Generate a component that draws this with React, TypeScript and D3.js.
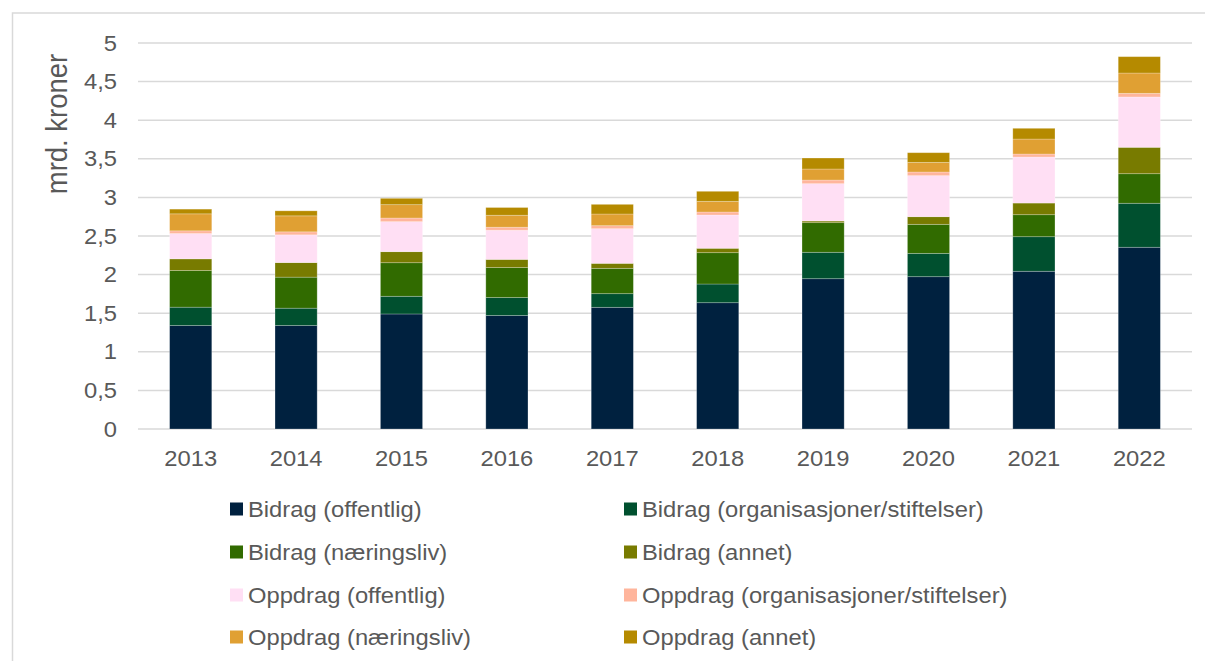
import React from "react";
import * as d3 from "d3";

const years = ["2013", "2014", "2015", "2016", "2017", "2018", "2019", "2020", "2021", "2022"];

const bidragOffentlig = [1.34, 1.34, 1.49, 1.47, 1.576, 1.636, 1.947, 1.973, 2.043, 2.354];
const bidragOrg = [0.238, 0.225, 0.229, 0.233, 0.177, 0.242, 0.342, 0.302, 0.448, 0.57];
const bidragNaering = [0.475, 0.402, 0.435, 0.388, 0.328, 0.406, 0.384, 0.376, 0.285, 0.383];
const bidragAnnet = [0.151, 0.189, 0.143, 0.106, 0.065, 0.057, 0.021, 0.099, 0.151, 0.342];
const oppdragOffentlig = [0.328, 0.359, 0.389, 0.378, 0.449, 0.431, 0.484, 0.532, 0.596, 0.652];
const oppdragOrg = [0.035, 0.039, 0.047, 0.039, 0.039, 0.039, 0.047, 0.047, 0.039, 0.047];
const oppdragNaering = [0.22, 0.207, 0.173, 0.155, 0.151, 0.138, 0.143, 0.125, 0.194, 0.263];
const oppdragAnnet = [0.061, 0.065, 0.082, 0.1, 0.125, 0.13, 0.142, 0.125, 0.139, 0.212];

const seriesNames = [
  "Bidrag (offentlig)",
  "Bidrag (organisasjoner/stiftelser)",
  "Bidrag (næringsliv)",
  "Bidrag (annet)",
  "Oppdrag (offentlig)",
  "Oppdrag (organisasjoner/stiftelser)",
  "Oppdrag (næringsliv)",
  "Oppdrag (annet)",
];
const seriesValues = [
  bidragOffentlig,
  bidragOrg,
  bidragNaering,
  bidragAnnet,
  oppdragOffentlig,
  oppdragOrg,
  oppdragNaering,
  oppdragAnnet,
];
const seriesColors = [
  "#00213F",
  "#00502F",
  "#316B00",
  "#787B00",
  "#FFDFF4",
  "#FFB59C",
  "#E0A033",
  "#B58A00",
];

const yTicks = [0, 0.5, 1, 1.5, 2, 2.5, 3, 3.5, 4, 4.5, 5];
const yTickLabels = ["0", "0,5", "1", "1,5", "2", "2,5", "3", "3,5", "4", "4,5", "5"];
const yTitle = "mrd. kroner";

const W = 1205;
const H = 661;
const FONT = "'Liberation Sans', Arial, sans-serif";
const TEXT = "#595959";
const SX = 1.08;

function Txt(props: { x: number; y: number; anchor?: string; size?: number; rotate?: number; children: any }) {
  const { x, y, anchor = "start", size = 22, rotate = 0, children } = props;
  return (
    <g transform={`translate(${x},${y}) scale(${SX},1) rotate(${rotate})`}>
      <text
        x={0}
        y={0}
        textAnchor={anchor as any}
        dominantBaseline="central"
        fontFamily={FONT}
        fontSize={size}
        fill={TEXT}
      >
        {children}
      </text>
    </g>
  );
}

export default function App() {
  const left = 138;
  const right = 1192;
  const top = 43;
  const bottom = 429;

  const x = d3.scaleBand<string>().domain(years).range([left, right]).paddingInner(0.6).paddingOuter(0.3);
  const y = d3.scaleLinear().domain([0, 5]).range([bottom, top]);

  const table = years.map((yr, i) => {
    const row: Record<string, any> = { year: yr };
    seriesNames.forEach((n, k) => (row[n] = seriesValues[k][i]));
    return row;
  });
  const stacked = d3.stack<any>().keys(seriesNames)(table);

  const legendCols = [230, 624];
  const legendRows = [509, 552, 595, 637];

  return (
    <div style={{ position: "fixed", left: 0, top: 0, width: W, height: H, background: "#fff" }}>
      <svg width={W} height={H} style={{ display: "block" }}>
        <rect x={12.5} y={13} width={1250} height={800} fill="#fff" stroke="#D9D9D9" strokeWidth={1.5} />
        {yTicks.map((t) => (
          <line key={t} x1={left} x2={right} y1={y(t)} y2={y(t)} stroke="#D9D9D9" strokeWidth={1.5} />
        ))}
        {yTicks.map((t, i) => (
          <Txt key={"l" + t} x={117} y={y(t)} anchor="end">
            {yTickLabels[i]}
          </Txt>
        ))}
        <Txt x={57} y={124} anchor="middle" size={27.5} rotate={-90}>
          {yTitle}
        </Txt>
        {stacked.map((s, k) => (
          <g key={s.key} fill={seriesColors[k]}>
            {s.map((d, i) => (
              <rect
                key={i}
                x={x(years[i])}
                width={x.bandwidth()}
                y={y(d[1])}
                height={Math.max(0, y(d[0]) - y(d[1]))}
                stroke="rgba(255,255,255,0.3)"
                strokeWidth={0.8}
              />
            ))}
          </g>
        ))}
        {years.map((yr) => (
          <Txt key={yr} x={(x(yr) as number) + x.bandwidth() / 2} y={458} anchor="middle">
            {yr}
          </Txt>
        ))}
        {seriesNames.map((n, k) => {
          const cx = legendCols[k % 2];
          const cy = legendRows[Math.floor(k / 2)];
          return (
            <g key={n}>
              <rect x={cx} y={cy - 6.5} width={13} height={13} fill={seriesColors[k]} />
              <Txt x={cx + 18} y={cy}>
                {n}
              </Txt>
            </g>
          );
        })}
      </svg>
    </div>
  );
}
